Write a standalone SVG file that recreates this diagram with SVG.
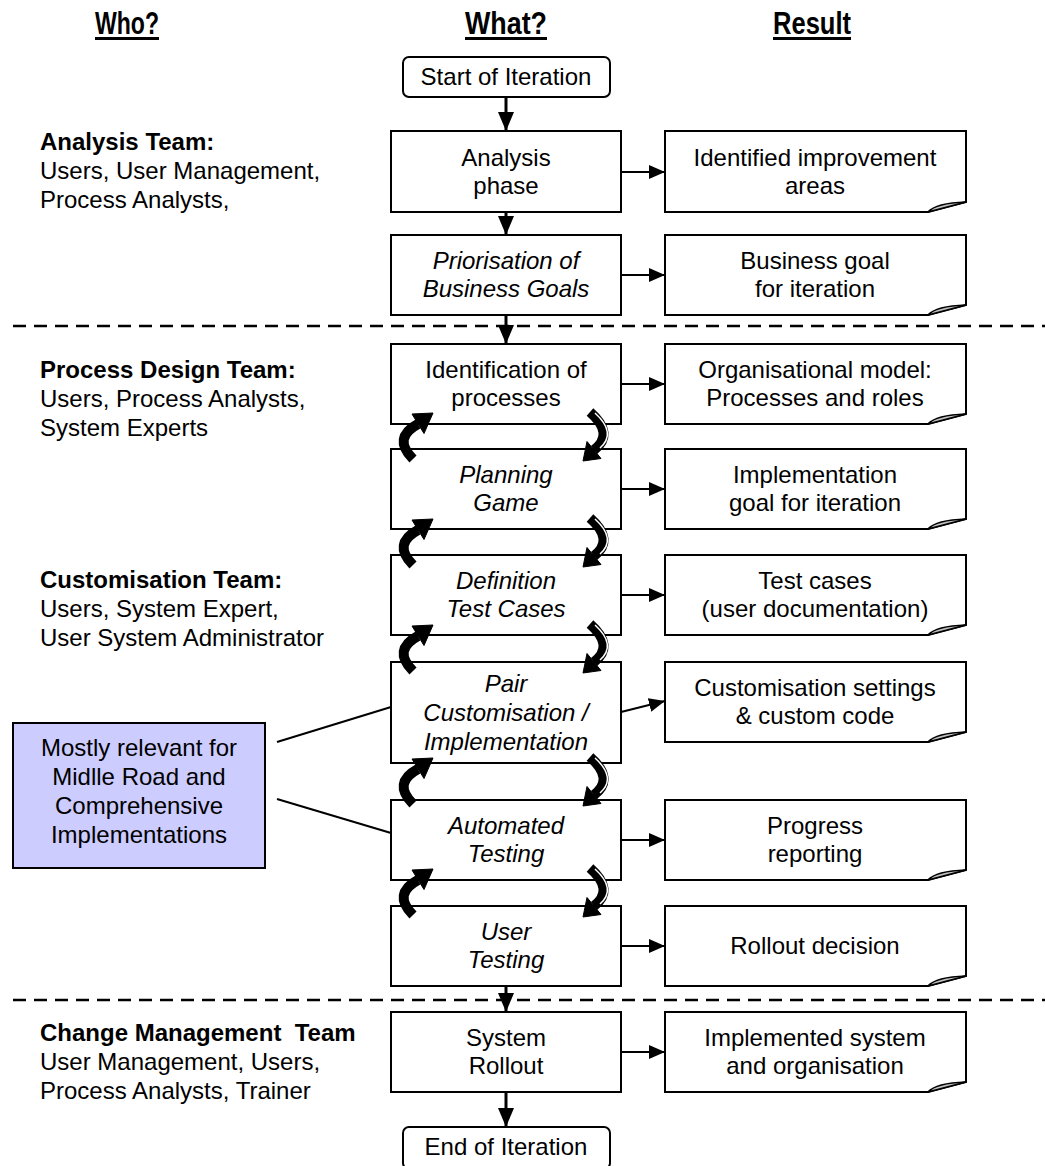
<svg xmlns="http://www.w3.org/2000/svg" xmlns:xlink="http://www.w3.org/1999/xlink" width="1045" height="1166" viewBox="0 0 1045 1166">
<style>
  text { font-family: "Liberation Sans", Arial, sans-serif; font-size: 24px; fill: #000; }
  .c { text-anchor: middle; }
  .i { font-style: italic; }
  .b { font-weight: bold; }
  .hd { font-family: "Liberation Sans Narrow", "Liberation Sans", Arial, sans-serif; font-weight: bold; font-size: 32px; text-anchor: middle; }
  .box { fill: #fff; stroke: #000; stroke-width: 2; }
  .note { fill: #ccccff; stroke: #000; stroke-width: 2; }
  .flap { fill: #c0c0c0; stroke: #000; stroke-width: 1.5; stroke-linejoin: round; }
  .va { stroke: #000; stroke-width: 3; fill: none; marker-end: url(#ahv); }
  .ha { stroke: #000; stroke-width: 2; fill: none; marker-end: url(#ahh); }
  .ln { stroke: #000; stroke-width: 2; fill: none; }
  .dash { stroke: #000; stroke-width: 2.5; stroke-dasharray: 13 8; fill: none; }
  .crv { stroke: #000; stroke-width: 10; fill: none; }
  .hl { stroke: #fff; stroke-width: 1.5; fill: none; }
</style>
<defs>
  <marker id="ahv" markerUnits="userSpaceOnUse" markerWidth="20" markerHeight="18" refX="19" refY="8" orient="auto">
    <path d="M0,0 L19,8 L0,16 Z" fill="#000"/>
  </marker>
  <marker id="ahh" markerUnits="userSpaceOnUse" markerWidth="18" markerHeight="16" refX="16" refY="7" orient="auto">
    <path d="M0,0 L16,7 L0,14 Z" fill="#000"/>
  </marker>
  <g id="cl">
    <path class="crv" d="M413,23 Q392,2 418,-12"/>
    <path d="M424,-2.5 L412,-22 L433,-23 Z" fill="#000" stroke="#000" stroke-width="1"/>
  </g>
  <g id="cr">
    <path class="crv" d="M590,-24 Q615,-2 594,14"/>
    <path d="M601,22.5 L587,5.5 L583,25 Z" fill="#000" stroke="#000" stroke-width="1"/>
    <path class="hl" d="M595,-23 Q617,-3 600,12"/>
  </g>
</defs>

<g id="headers">
  <text class="hd" x="127" y="34" textLength="64" lengthAdjust="spacingAndGlyphs">Who?</text>
  <rect x="95" y="37" width="64" height="3" fill="#000"/>
  <text class="hd" x="506" y="34" textLength="82" lengthAdjust="spacingAndGlyphs">What?</text>
  <rect x="465" y="37" width="82" height="3" fill="#000"/>
  <text class="hd" x="812" y="34" textLength="78" lengthAdjust="spacingAndGlyphs">Result</text>
  <rect x="773" y="37" width="78" height="3" fill="#000"/>
</g>

<g id="separators">
  <line class="dash" x1="13" y1="326" x2="1045" y2="326"/>
  <line class="dash" x1="13" y1="1000" x2="1045" y2="1000"/>
</g>

<g id="teams">
  <text x="40" y="150" class="b">Analysis Team:</text>
  <text x="40" y="179">Users, User Management,</text>
  <text x="40" y="208">Process Analysts,</text>
  <text x="40" y="378" class="b">Process Design Team:</text>
  <text x="40" y="407">Users, Process Analysts,</text>
  <text x="40" y="436">System Experts</text>
  <text x="40" y="588" class="b">Customisation Team:</text>
  <text x="40" y="617">Users, System Expert,</text>
  <text x="40" y="646">User System Administrator</text>
  <text x="40" y="1041" class="b" style="white-space:pre" xml:space="preserve">Change Management  Team</text>
  <text x="40" y="1070">User Management, Users,</text>
  <text x="40" y="1099">Process Analysts, Trainer</text>
</g>

<g id="start">
  <rect class="box" x="403" y="57" width="207" height="40" rx="6"/>
  <text class="c" x="506" y="85">Start of Iteration</text>
</g>
<g id="analysis">
  <rect class="box" x="391" y="131" width="230" height="81"/>
  <text class="c" x="506" y="166">Analysis</text>
  <text class="c" x="506" y="194">phase</text>
</g>
<g id="priorisation">
  <rect class="box" x="391" y="235" width="230" height="80"/>
  <text class="c i" x="506" y="269">Priorisation of</text>
  <text class="c i" x="506" y="297">Business Goals</text>
</g>
<g id="identification">
  <rect class="box" x="391" y="344" width="230" height="80"/>
  <text class="c" x="506" y="378">Identification of</text>
  <text class="c" x="506" y="406">processes</text>
</g>
<g id="planning">
  <rect class="box" x="391" y="449" width="230" height="80"/>
  <text class="c i" x="506" y="483">Planning</text>
  <text class="c i" x="506" y="511">Game</text>
</g>
<g id="definition">
  <rect class="box" x="391" y="555" width="230" height="80"/>
  <text class="c i" x="506" y="589">Definition</text>
  <text class="c i" x="506" y="617">Test Cases</text>
</g>
<g id="pair">
  <rect class="box" x="391" y="662" width="230" height="101"/>
  <text class="c i" x="506" y="692">Pair</text>
  <text class="c i" x="506" y="721">Customisation /</text>
  <text class="c i" x="506" y="750">Implementation</text>
</g>
<g id="automated">
  <rect class="box" x="391" y="800" width="230" height="80"/>
  <text class="c i" x="506" y="834">Automated</text>
  <text class="c i" x="506" y="862">Testing</text>
</g>
<g id="usertesting">
  <rect class="box" x="391" y="906" width="230" height="80"/>
  <text class="c i" x="506" y="940">User</text>
  <text class="c i" x="506" y="968">Testing</text>
</g>
<g id="rollout">
  <rect class="box" x="391" y="1012" width="230" height="80"/>
  <text class="c" x="506" y="1046">System</text>
  <text class="c" x="506" y="1074">Rollout</text>
</g>
<g id="end">
  <rect class="box" x="403" y="1127" width="207" height="42" rx="6"/>
  <text class="c" x="506" y="1155">End of Iteration</text>
</g>

<g id="r1">
  <path class="box" d="M665,131 H966 V202 L928,212 H665 Z"/>
  <path class="flap" d="M928,212 Q936,203 966,202 Z"/>
  <text class="c" x="815" y="166">Identified improvement</text>
  <text class="c" x="815" y="194">areas</text>
</g>
<g id="r2">
  <path class="box" d="M665,235 H966 V305 L928,315 H665 Z"/>
  <path class="flap" d="M928,315 Q936,306 966,305 Z"/>
  <text class="c" x="815" y="269">Business goal</text>
  <text class="c" x="815" y="297">for iteration</text>
</g>
<g id="r3">
  <path class="box" d="M665,344 H966 V414 L928,424 H665 Z"/>
  <path class="flap" d="M928,424 Q936,415 966,414 Z"/>
  <text class="c" x="815" y="378">Organisational model:</text>
  <text class="c" x="815" y="406">Processes and roles</text>
</g>
<g id="r4">
  <path class="box" d="M665,449 H966 V519 L928,529 H665 Z"/>
  <path class="flap" d="M928,529 Q936,520 966,519 Z"/>
  <text class="c" x="815" y="483">Implementation</text>
  <text class="c" x="815" y="511">goal for iteration</text>
</g>
<g id="r5">
  <path class="box" d="M665,555 H966 V625 L928,635 H665 Z"/>
  <path class="flap" d="M928,635 Q936,626 966,625 Z"/>
  <text class="c" x="815" y="589">Test cases</text>
  <text class="c" x="815" y="617">(user documentation)</text>
</g>
<g id="r6">
  <path class="box" d="M665,662 H966 V732 L928,742 H665 Z"/>
  <path class="flap" d="M928,742 Q936,733 966,732 Z"/>
  <text class="c" x="815" y="696">Customisation settings</text>
  <text class="c" x="815" y="724">&amp; custom code</text>
</g>
<g id="r7">
  <path class="box" d="M665,800 H966 V870 L928,880 H665 Z"/>
  <path class="flap" d="M928,880 Q936,871 966,870 Z"/>
  <text class="c" x="815" y="834">Progress</text>
  <text class="c" x="815" y="862">reporting</text>
</g>
<g id="r8">
  <path class="box" d="M665,906 H966 V976 L928,986 H665 Z"/>
  <path class="flap" d="M928,986 Q936,977 966,976 Z"/>
  <text class="c" x="815" y="954">Rollout decision</text>
</g>
<g id="r9">
  <path class="box" d="M665,1012 H966 V1082 L928,1092 H665 Z"/>
  <path class="flap" d="M928,1092 Q936,1083 966,1082 Z"/>
  <text class="c" x="815" y="1046">Implemented system</text>
  <text class="c" x="815" y="1074">and organisation</text>
</g>

<g id="note">
  <rect class="note" x="13" y="723" width="252" height="145"/>
  <text class="c" x="139" y="756">Mostly relevant for</text>
  <text class="c" x="139" y="785">Midlle Road and</text>
  <text class="c" x="139" y="814">Comprehensive</text>
  <text class="c" x="139" y="843">Implementations</text>
</g>

<g id="connectors">
  <line class="va" x1="506" y1="97" x2="506" y2="131"/>
  <line class="va" x1="506" y1="212" x2="506" y2="235"/>
  <line class="va" x1="506" y1="315" x2="506" y2="344"/>
  <line class="va" x1="506" y1="986" x2="506" y2="1012"/>
  <line class="va" x1="506" y1="1092" x2="506" y2="1127"/>
  <line class="ha" x1="621" y1="172" x2="665" y2="172"/>
  <line class="ha" x1="621" y1="275" x2="665" y2="275"/>
  <line class="ha" x1="621" y1="384" x2="665" y2="384"/>
  <line class="ha" x1="621" y1="489" x2="665" y2="489"/>
  <line class="ha" x1="621" y1="595" x2="665" y2="595"/>
  <line class="ha" x1="621" y1="712" x2="665" y2="701"/>
  <line class="ha" x1="621" y1="840" x2="665" y2="840"/>
  <line class="ha" x1="621" y1="946" x2="665" y2="946"/>
  <line class="ha" x1="621" y1="1052" x2="665" y2="1052"/>
  <line class="ln" x1="277" y1="742" x2="391" y2="707"/>
  <line class="ln" x1="277" y1="799" x2="391" y2="833"/>
  <use xlink:href="#cl" y="436"/>
  <use xlink:href="#cr" y="436"/>
  <use xlink:href="#cl" y="542"/>
  <use xlink:href="#cr" y="542"/>
  <use xlink:href="#cl" y="648"/>
  <use xlink:href="#cr" y="648"/>
  <use xlink:href="#cl" y="781"/>
  <use xlink:href="#cr" y="781"/>
  <use xlink:href="#cl" y="892"/>
  <use xlink:href="#cr" y="892"/>
</g>
</svg>
